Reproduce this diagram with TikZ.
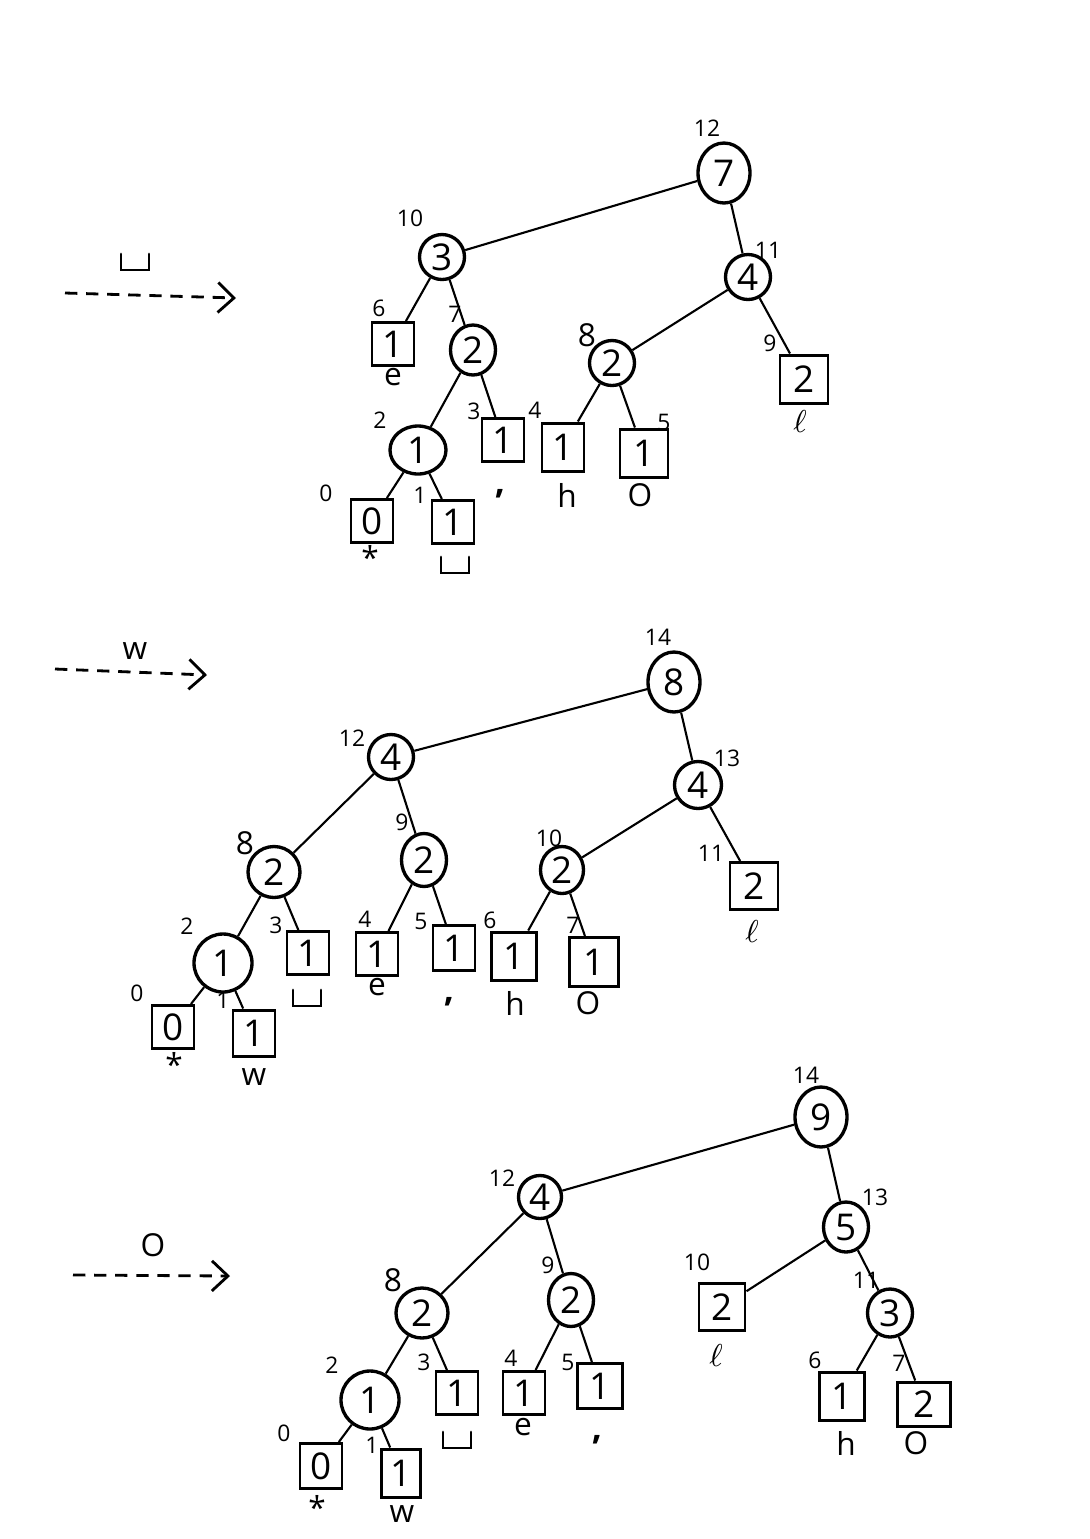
\documentclass[tikz,border=0pt]{standalone}
\usepackage{fontspec}
\setmainfont{Open Sans}
\usetikzlibrary{shapes.geometric,arrows.meta}

% open "visible space" symbol
\newcommand\spacechar{\tikz[baseline=0pt,line width=0.8pt,line cap=round]\draw (0,1.6mm)--(0,0)--(2.8mm,0)--(2.8mm,1.6mm);}

\tikzset{
  inner/.style={draw, ellipse, line width=0.95pt, inner sep=0pt,
    minimum width=4.5mm, minimum height=4.5mm, font=\fontsize{10.5}{12}\selectfont},
  rootnode/.style={inner, minimum width=5.2mm, minimum height=6mm},
  wide/.style={inner, minimum width=5.6mm, minimum height=5.4mm},
  leaf/.style={draw, rectangle, line width=0.85pt, inner sep=0pt,
    minimum width=4.2mm, minimum height=4.3mm, font=\fontsize{10.5}{12}\selectfont},
  idx/.style={font=\fontsize{6.5}{8}\selectfont, inner sep=0pt},
  sym/.style={font=\fontsize{9}{10}\selectfont, inner sep=0pt},
  commasym/.style={font=\bfseries\fontsize{10}{10}\selectfont, inner sep=0pt},
  edge/.style={line width=0.6pt},
  step arrow/.style={line width=0.8pt, dash pattern=on 3.5pt off 2.5pt,
    -{Straight Barb[length=1.6mm, width=3mm]}}
}

\begin{document}
\begin{tikzpicture}[x=0.1mm, y=-0.1mm]
\useasboundingbox (0,0) rectangle (1090,1539);

% ---------- step 1: after the space symbol ----------
\coordinate (A1s) at (65,293);
\coordinate (A1e) at (236,298);
\draw[step arrow] (A1s) -- (A1e);
\node[sym] (A1l) at (135,262) {\spacechar};

\node[rootnode] (r1) at (724,173) {7};
\node[inner] (a1) at (442,257) {3};
\node[inner] (b1) at (748,277) {4};
\node[leaf] (e1) at (393,344) {1};
\node[inner, minimum height=5mm] (c1) at (473,350) {2};
\node[inner] (d1) at (612,363) {2};
\node[leaf, minimum size=4.8mm] (l1) at (804,379) {2};
\node[wide, minimum height=4.8mm] (f1) at (418,450) {1};
\node[leaf] (k1) at (503,440) {1};
\node[leaf, minimum height=4.8mm] (h1) at (563,447) {1};
\node[leaf, minimum size=4.8mm] (o1) at (644,453) {1};
\node[leaf] (z1) at (372,521) {0};
\node[leaf] (s1) at (453,522) {1};

\node[idx] (r1i) at (707,128) {12};
\node[idx] (a1i) at (410,218) {10};
\node[idx] (b1i) at (768,250) {11};
\node[idx] (e1i) at (379,308) {6};
\node[idx] (c1i) at (455,314) {7};
\node[idx, font=\fontsize{9}{10}\selectfont] (d1i) at (587,335) {8};
\node[idx] (l1i) at (770,343) {9};
\node[idx] (f1i) at (380,420) {2};
\node[idx] (k1i) at (474,411) {3};
\node[idx] (h1i) at (535,410) {4};
\node[idx] (o1i) at (664,422) {5};
\node[idx] (z1i) at (326,493) {0};
\node[idx] (s1i) at (420,495) {1};

\node[sym] (e1s) at (393,377) {e};
\node[sym] (l1s) at (800,422) {$\ell$};
\node[commasym] (k1s) at (500,494) {,};
\node[sym] (h1s) at (567,495) {h};
\node[sym] (o1s) at (640,495) {O};
\node[sym] (z1s) at (370,557) {*};
\node[sym] (s1s) at (455,565) {\spacechar};

\draw[edge] (r1) -- (a1);
\draw[edge] (r1) -- (b1);
\draw[edge] (a1) -- (e1);
\draw[edge] (a1) -- (c1);
\draw[edge] (c1) -- (f1);
\draw[edge] (c1) -- (k1);
\draw[edge] (b1) -- (d1);
\draw[edge] (b1) -- (l1);
\draw[edge] (d1) -- (h1);
\draw[edge] (d1) -- (o1);
\draw[edge] (f1) -- (z1);
\draw[edge] (f1) -- (s1);

% ---------- step 2: after w ----------
\coordinate (A2s) at (55,669);
\coordinate (A2e) at (207,675);
\draw[step arrow] (A2s) -- (A2e);
\node[sym] (A2l) at (135,651) {w};

\node[rootnode] (r2) at (674,682) {8};
\node[inner] (a2) at (391,757) {4};
\node[inner, minimum size=4.7mm] (b2) at (698,785) {4};
\node[inner, minimum width=5.2mm, minimum height=5.1mm] (c2) at (274,872) {2};
\node[inner, minimum height=5.3mm] (g2) at (424,860) {2};
\node[inner, minimum width=4.3mm, minimum height=4.7mm] (d2) at (562,870) {2};
\node[leaf, minimum width=4.8mm, minimum height=4.7mm] (l2) at (754,886) {2};
\node[wide, minimum size=5.8mm] (f2) at (223,963) {1};
\node[leaf] (s2) at (308,953) {1};
\node[leaf] (e2) at (377,954) {1};
\node[leaf, minimum height=4.5mm] (k2) at (454,948) {1};
\node[leaf, minimum width=4.5mm, minimum height=4.8mm] (h2) at (514,956) {1};
\node[leaf, minimum width=4.9mm, minimum height=4.9mm] (o2) at (594,962) {1};
\node[leaf] (z2) at (173,1027) {0};
\node[leaf, minimum height=4.6mm] (w2) at (254,1033) {1};

\node[idx] (r2i) at (658,637) {14};
\node[idx] (a2i) at (352,738) {12};
\node[idx] (b2i) at (727,758) {13};
\node[idx, font=\fontsize{9}{10}\selectfont] (c2i) at (245,843) {8};
\node[idx] (g2i) at (402,822) {9};
\node[idx] (d2i) at (549,838) {10};
\node[idx] (l2i) at (711,853) {11};
\node[idx] (f2i) at (187,926) {2};
\node[idx] (s2i) at (276,925) {3};
\node[idx] (e2i) at (365,919) {4};
\node[idx] (k2i) at (421,921) {5};
\node[idx] (h2i) at (490,920) {6};
\node[idx] (o2i) at (573,925) {7};
\node[idx] (z2i) at (137,993) {0};
\node[idx] (w2i) at (223,1000) {1};

\node[sym] (l2s) at (752,932) {$\ell$};
\node[sym] (s2s) at (307,998) {\spacechar};
\node[sym] (e2s) at (377,987) {e};
\node[commasym] (k2s) at (449,1002) {,};
\node[sym] (h2s) at (515,1003) {h};
\node[sym] (o2s) at (588,1003) {O};
\node[sym] (z2s) at (174,1064) {*};
\node[sym] (w2s) at (254,1077) {w};

\draw[edge] (r2) -- (a2);
\draw[edge] (r2) -- (b2);
\draw[edge] (a2) -- (c2);
\draw[edge] (a2) -- (g2);
\draw[edge] (b2) -- (d2);
\draw[edge] (b2) -- (l2);
\draw[edge] (c2) -- (f2);
\draw[edge] (c2) -- (s2);
\draw[edge] (g2) -- (e2);
\draw[edge] (g2) -- (k2);
\draw[edge] (d2) -- (h2);
\draw[edge] (d2) -- (o2);
\draw[edge] (f2) -- (z2);
\draw[edge] (f2) -- (w2);

% ---------- step 3: after o ----------
\coordinate (A3s) at (73,1275);
\coordinate (A3e) at (230,1276);
\draw[step arrow] (A3s) -- (A3e);
\node[sym] (A3l) at (153,1245) {O};

\node[rootnode] (r3) at (821,1117) {9};
\node[inner, minimum size=4.3mm] (a3) at (540,1197) {4};
\node[inner, minimum height=5mm] (b3) at (846,1227) {5};
\node[inner, minimum width=5.2mm, minimum height=5mm] (c3) at (422,1313) {2};
\node[inner, minimum height=5.3mm] (g3) at (571,1300) {2};
\node[leaf, minimum width=4.6mm, minimum height=4.7mm] (l3) at (722,1307) {2};
\node[inner, minimum height=4.8mm] (t3) at (890,1313) {3};
\node[wide, minimum size=5.8mm] (f3) at (370,1400) {1};
\node[leaf] (s3) at (457,1393) {1};
\node[leaf] (e3) at (524,1393) {1};
\node[leaf, minimum width=4.5mm, minimum height=4.5mm] (k3) at (600,1386) {1};
\node[leaf, minimum width=4.5mm, minimum height=4.8mm] (h3) at (842,1396) {1};
\node[leaf, minimum width=5.3mm, minimum height=4.4mm] (o3) at (924,1404) {2};
\node[leaf, minimum height=4.5mm] (z3) at (321,1466) {0};
\node[leaf, minimum width=3.9mm, minimum height=4.8mm] (w3) at (401,1473) {1};

\node[idx] (r3i) at (806,1075) {14};
\node[idx] (a3i) at (502,1178) {12};
\node[idx] (b3i) at (875,1197) {13};
\node[idx, font=\fontsize{9}{10}\selectfont] (c3i) at (393,1280) {8};
\node[idx] (g3i) at (548,1265) {9};
\node[idx] (l3i) at (697,1262) {10};
\node[idx] (t3i) at (866,1280) {11};
\node[idx] (f3i) at (332,1365) {2};
\node[idx] (s3i) at (424,1362) {3};
\node[idx] (e3i) at (511,1358) {4};
\node[idx] (k3i) at (568,1362) {5};
\node[idx] (h3i) at (815,1360) {6};
\node[idx] (o3i) at (899,1363) {7};
\node[idx] (z3i) at (284,1433) {0};
\node[idx] (w3i) at (372,1445) {1};

\node[sym] (l3s) at (716,1355) {$\ell$};
\node[sym] (s3s) at (457,1440) {\spacechar};
\node[sym] (e3s) at (523,1427) {e};
\node[commasym] (k3s) at (597,1440) {,};
\node[sym] (h3s) at (846,1443) {h};
\node[sym] (o3s) at (916,1443) {O};
\node[sym] (z3s) at (317,1507) {*};
\node[sym] (w3s) at (402,1514) {w};

\draw[edge] (r3) -- (a3);
\draw[edge] (r3) -- (b3);
\draw[edge] (a3) -- (c3);
\draw[edge] (a3) -- (g3);
\draw[edge] (b3) -- (l3);
\draw[edge] (b3) -- (t3);
\draw[edge] (c3) -- (f3);
\draw[edge] (c3) -- (s3);
\draw[edge] (g3) -- (e3);
\draw[edge] (g3) -- (k3);
\draw[edge] (t3) -- (h3);
\draw[edge] (t3) -- (o3);
\draw[edge] (f3) -- (z3);
\draw[edge] (f3) -- (w3);
\end{tikzpicture}
\end{document}
